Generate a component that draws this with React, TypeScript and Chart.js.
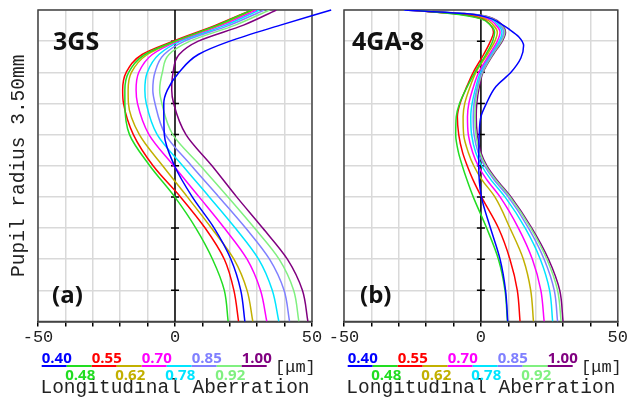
import { useEffect, useRef } from 'react';
import { Chart, registerables } from 'chart.js';

Chart.register(...registerables);

// ---------- data ----------
const WAVELENGTHS = ['0.40', '0.48', '0.55', '0.62', '0.70', '0.78', '0.85', '0.92', '1.00'];
const COLORS = ['#0000ff', '#22dd22', '#ff0000', '#c2b000', '#ff00ff', '#00e5ff', '#8080ff', '#80f080', '#800080'];

const X_TICKS = [-50, -40, -30, -20, -10, 0, 10, 20, 30, 40, 50];
const X_LABELED = [-50, 0, 50];
const Y_TICKS = [0, 0.35, 0.7, 1.05, 1.4, 1.75, 2.1, 2.45, 2.8, 3.15, 3.5];

// Panel (a) 3GS: pupil radius levels (mm) and longitudinal aberration (µm)
const Y_A = [0, 0.35, 0.7, 1.05, 1.4, 1.75, 2.1, 2.45, 2.6, 2.8, 3.0, 3.15, 3.33, 3.5];
const A_040 = [25.5, 24, 20.4, 14.3, 6.3, -0.2, -3.9, -4.1, -2.8, 1.5, 8.5, 20, 38.5, 57];
const A_048 = [19.4, 18, 13.7, 7.6, -0.1, -9.2, -16.6, -18.3, -18.3, -16.9, -11, 0, 15.5, 28];
const A_055 = [23.2, 21.5, 18, 11, 2, -8, -15.2, -18.8, -19.1, -17.8, -12, -0.7, 14.9, 28];
const A_062 = [28.4, 26.3, 21.5, 13.3, 4.5, -4.5, -13, -17, -17.1, -15.9, -10.1, 0.2, 16, 28.3];
const A_070 = [33.5, 31.2, 26.3, 18, 8.8, -0.5, -9.5, -13.7, -14.2, -13.2, -8.3, 1, 17, 29.6];
const A_078 = [37.9, 35.5, 30.5, 22, 12.5, 2.8, -6.5, -10.5, -11, -10.1, -5.9, 2, 18.5, 30.8];
const A_085 = [41.8, 39.8, 34.5, 25.8, 16, 6, -3.5, -7.3, -8.1, -7.3, -4, 3.5, 20, 32.6];
const A_092 = [45.2, 43.3, 38, 29, 19.3, 9.3, -0.8, -4.8, -5.6, -4.6, -2.2, 5.5, 22, 34.5];
const A_100 = [48.5, 46.5, 41, 32, 22.5, 13.5, 4, -0.5, -1.2, -0.7, 1.5, 8.5, 25, 37];

// Panel (b) 4GA-8
const Y_B = [0, 0.35, 0.7, 1.05, 1.4, 1.6, 1.75, 1.9, 2.1, 2.3, 2.45, 2.65, 2.8, 3.0, 3.15, 3.25, 3.33, 3.4, 3.45, 3.5];
const Y_B_040 = [0, 0.35, 0.7, 1.05, 1.4, 1.75, 2.1, 2.3, 2.45, 2.64, 2.8, 2.96, 3.1, 3.2, 3.28, 3.35, 3.42, 3.46, 3.5];
const B_040 = [9.8, 9, 7, 3.5, 0.2, -0.8, -0.6, 0, 2, 5.5, 11, 14.6, 15.6, 13.8, 10.5, 7, 2, -6, -28];
const B_048 = [9.7, 8.8, 6.4, 2.1, -2.8, -5.2, -6.8, -8.2, -9.2, -9, -7.8, -4.8, -2.2, 1.8, 4.3, 5.0, 3.5, 0, -8, -25];
const B_055 = [14.3, 13.3, 10.6, 6.4, 0.2, -3, -5, -6.7, -8.1, -8.6, -7.6, -5, -2.8, 1.0, 3.5, 4.6, 3.5, 0.5, -7, -26];
const B_062 = [19.2, 18.2, 15.5, 10.6, 5.1, 0.2, -2.6, -4.6, -6.3, -6.5, -5.9, -3.8, -1.8, 2.3, 5.1, 6, 4.5, 1.5, -6, -26];
const B_070 = [23.1, 21.9, 18.8, 13.7, 7, 2, -1, -3, -4.6, -4.9, -4.4, -2.6, -0.8, 3.1, 6, 7, 5.5, 2.5, -5, -27];
const B_078 = [26.2, 25.1, 21.7, 16.2, 8.8, 3.5, 0.3, -1.9, -3.4, -3.7, -3.2, -1.7, -0.2, 3.5, 6.7, 7.7, 6.3, 3.3, -4, -27];
const B_085 = [28, 26.8, 23.1, 17.4, 10, 4.6, 1.3, -1, -2.5, -2.8, -2.5, -1.2, 0.3, 3.9, 7.1, 8.3, 7, 4, -3, -28];
const B_092 = [29.3, 28, 24.1, 18.2, 10.6, 5.2, 1.8, -0.4, -1.8, -2.2, -2, -0.9, 0.6, 4.2, 7.5, 8.7, 7.4, 4.4, -2.5, -28];
const B_100 = [30, 28.8, 24.7, 18.6, 11, 5.6, 2.2, 0, -1.3, -1.7, -1.5, -0.5, 0.8, 4.5, 7.8, 9, 7.8, 4.8, -2, -28];

const SERIES_A = [A_040, A_048, A_055, A_062, A_070, A_078, A_085, A_092, A_100];
const SERIES_B = [B_040, B_048, B_055, B_062, B_070, B_078, B_085, B_092, B_100];
const YS_A = [Y_A, Y_A, Y_A, Y_A, Y_A, Y_A, Y_A, Y_A, Y_A];
const YS_B = [Y_B_040, Y_B, Y_B, Y_B, Y_B, Y_B, Y_B, Y_B, Y_B];

const MONO = '"Liberation Mono", "Courier New", monospace';
const SANS = '"Open Sans", "Liberation Sans", sans-serif';

type PanelCfg = {
  name: string;
  letter: string;
  nameDx: number;
  letterDx: number;
  padLeft: number;
  padRight: number;
  yWidth: number;
  yTitle: boolean;
  series: number[][];
  ys: number[][];
  unclipFirst: boolean;
};

function makeDecor(cfg: PanelCfg) {
  return {
    id: 'decor',
    beforeDatasetsDraw(chart: any) {
      const { ctx, chartArea } = chart;
      const { left, right, top, bottom } = chartArea;
      const xs = chart.scales.x;
      const ysc = chart.scales.y;
      ctx.save();
      ctx.strokeStyle = '#444';
      ctx.lineWidth = 1.5;
      ctx.strokeRect(left, top, right - left, bottom - top);
      const x0 = xs.getPixelForValue(0);
      ctx.strokeStyle = '#000';
      ctx.beginPath();
      ctx.moveTo(x0, bottom);
      ctx.lineTo(x0, top);
      for (const v of Y_TICKS) {
        if (v === 0 || v === 3.5) continue;
        const py = ysc.getPixelForValue(v);
        ctx.moveTo(x0 - 4, py);
        ctx.lineTo(x0 + 4, py);
      }
      ctx.stroke();
      ctx.restore();
    },
    afterDraw(chart: any) {
      const { ctx, chartArea } = chart;
      const L = chartArea.left;
      ctx.save();
      ctx.fillStyle = '#111';
      ctx.textAlign = 'left';
      ctx.textBaseline = 'alphabetic';
      ctx.font = `bold 25px ${SANS}`;
      ctx.fillText(cfg.name, L + cfg.nameDx, 50);
      ctx.font = `bold 24px ${SANS}`;
      ctx.fillText(cfg.letter, L + cfg.letterDx, 303);

      // legend
      const segW = 25;
      const x0 = L + 3.7;
      ctx.lineWidth = 2;
      for (let i = 0; i < WAVELENGTHS.length; i++) {
        const sx = x0 + segW * i;
        ctx.strokeStyle = COLORS[i];
        ctx.beginPath();
        ctx.moveTo(sx, 366);
        ctx.lineTo(sx + segW, 366);
        ctx.stroke();
        ctx.fillStyle = COLORS[i];
        ctx.font = `bold 15px ${SANS}`;
        if (i % 2 === 0) ctx.fillText(WAVELENGTHS[i], sx, 362.5);
        else ctx.fillText(WAVELENGTHS[i], sx - 1.5, 380);
      }
      ctx.fillStyle = '#222';
      ctx.font = `17px ${MONO}`;
      ctx.fillText('[μm]', L + 237, 372);
      ctx.restore();
    },
  };
}

function makeConfig(cfg: PanelCfg): any {
  const datasets = cfg.series.map((vals, i) => ({
    label: WAVELENGTHS[i],
    data: vals.map((x, j) => ({ x, y: cfg.ys[i][j] })),
    borderColor: COLORS[i],
    backgroundColor: COLORS[i],
    borderWidth: 1.5,
    pointRadius: 0,
    fill: false,
    cubicInterpolationMode: 'monotone',
    clip: i === 0 && cfg.unclipFirst ? false : undefined,
    capBezierPoints: !(i === 0 && cfg.unclipFirst),
  }));
  return {
    type: 'line',
    data: { datasets },
    options: {
      responsive: false,
      animation: false,
      devicePixelRatio: 1,
      indexAxis: 'y',
      layout: { padding: { left: cfg.padLeft, right: cfg.padRight, top: 10, bottom: 0 } },
      plugins: {
        legend: { display: false },
        tooltip: { enabled: false },
        title: { display: false },
      },
      scales: {
        x: {
          type: 'linear',
          position: 'bottom',
          min: -50,
          max: 50,
          afterBuildTicks: (s: any) => {
            s.ticks = X_TICKS.map((v) => ({ value: v }));
          },
          afterFit: (s: any) => {
            s.height = 78.5;
          },
          ticks: {
            autoSkip: false,
            maxRotation: 0,
            minRotation: 0,
            padding: 1,
            color: '#222',
            font: { family: MONO, size: 17 },
            callback: (v: number) => (X_LABELED.includes(v) ? String(v) : ''),
          },
          grid: {
            color: '#d9d9d9',
            lineWidth: 1.5,
            drawTicks: true,
            tickLength: 5,
            tickColor: '#000',
            tickWidth: 1.5,
          },
          border: { display: true, color: '#000', width: 1.5 },
          title: {
            display: true,
            text: 'Longitudinal Aberration',
            color: '#222',
            font: { family: MONO, size: 19.5 },
            padding: { top: 0, bottom: 0 },
          },
        },
        y: {
          type: 'linear',
          position: 'left',
          min: 0,
          max: 3.5,
          afterBuildTicks: (s: any) => {
            s.ticks = Y_TICKS.map((v) => ({ value: v }));
          },
          afterFit: (s: any) => {
            s.width = cfg.yWidth;
          },
          ticks: { display: false },
          grid: { color: '#d9d9d9', lineWidth: 1.5, drawTicks: false },
          border: { display: false },
          title: cfg.yTitle
            ? {
                display: true,
                text: 'Pupil radius 3.50mm',
                color: '#222',
                font: { family: MONO, size: 19.5 },
                padding: { top: 7, bottom: 0 },
              }
            : { display: false },
        },
      },
    },
    plugins: [makeDecor(cfg)],
  };
}

const PANEL_A: PanelCfg = {
  name: '3GS',
  letter: '(a)',
  nameDx: 15,
  letterDx: 14,
  padLeft: 0,
  padRight: 317,
  yWidth: 38,
  yTitle: true,
  series: SERIES_A,
  ys: YS_A,
  unclipFirst: true,
};

const PANEL_B: PanelCfg = {
  name: '4GA-8',
  letter: '(b)',
  nameDx: 8,
  letterDx: 16,
  padLeft: 344,
  padRight: 11,
  yWidth: 0,
  yTitle: false,
  series: SERIES_B,
  ys: YS_B,
  unclipFirst: false,
};

export default function App() {
  const refA = useRef<HTMLCanvasElement | null>(null);
  const refB = useRef<HTMLCanvasElement | null>(null);

  useEffect(() => {
    const a = new Chart(refA.current as HTMLCanvasElement, makeConfig(PANEL_A));
    const b = new Chart(refB.current as HTMLCanvasElement, makeConfig(PANEL_B));
    return () => {
      a.destroy();
      b.destroy();
    };
  }, []);

  const cs: any = { position: 'absolute', left: 0, top: 0, width: 629, height: 400 };
  return (
    <div style={{ position: 'absolute', left: 0, top: 0, width: 629, height: 400, background: '#fff' }}>
      <canvas ref={refA} width={629} height={400} style={cs} />
      <canvas ref={refB} width={629} height={400} style={cs} />
    </div>
  );
}
